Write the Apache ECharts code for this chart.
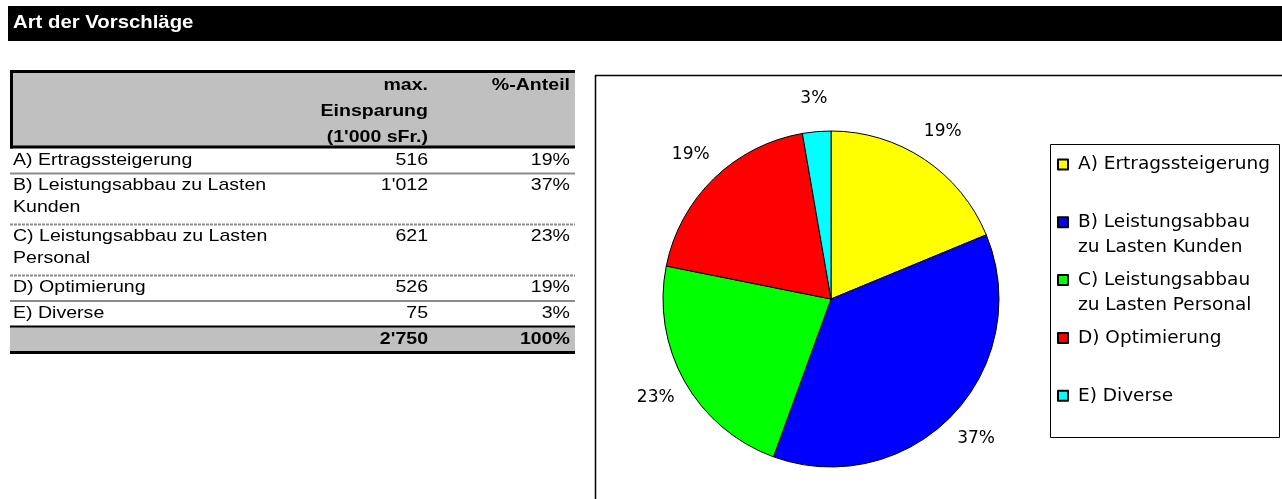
<!DOCTYPE html>
<html>
<head>
<meta charset="utf-8">
<script src="https://cdn.jsdelivr.net/npm/echarts@6/dist/echarts.min.js"></script>
<style>
  html, body { margin: 0; padding: 0; background: #fff; }
  #chart { width: 1282px; height: 499px; }
</style>
</head>
<body>
<div id="chart"></div>
<script>
const title = "Art der Vorschläge";
const categories = [
  "A) Ertragssteigerung",
  "B) Leistungsabbau zu Lasten Kunden",
  "C) Leistungsabbau zu Lasten Personal",
  "D) Optimierung",
  "E) Diverse",
];
const savings = [516, 1012, 621, 526, 75];
const headerValue = ["max.", "Einsparung", "(1'000 sFr.)"];
const headerShare = "%-Anteil";

const palette = ["#FFFF00", "#0000FF", "#00FF00", "#FF0000", "#00FFFF"];
const SANS = "Liberation Sans";
const LABEL_FONT = "DejaVu Sans";
const STRETCH = 1.15;

const total = savings.reduce((a, b) => a + b, 0);
const pct = (v) => Math.round((v / total) * 100) + "%";
const fmt = (v) => String(v).replace(/\B(?=(\d{3})+(?!\d))/g, "'");

// break a label at the last space so the first line stays under max chars
function wrap(text, max) {
  if (text.length <= max) return text;
  const cut = text.lastIndexOf(" ", max - 1);
  return text.slice(0, cut) + "\n" + text.slice(cut + 1);
}

function txt(x, y, text, o) {
  o = o || {};
  return {
    type: "text", x: x, y: y, scaleX: o.scale || STRETCH, silent: true, z: 10,
    style: {
      text: text, fill: o.color || "#000",
      fontFamily: SANS, fontSize: o.size || 17, fontWeight: o.bold ? "bold" : "normal",
      textAlign: o.align || "left", textVerticalAlign: o.valign || "middle",
      lineHeight: o.lineHeight || 22,
    },
  };
}
function hline(x1, x2, y, color, width, dash) {
  return {
    type: "line", silent: true, z: 11,
    shape: { x1: x1, y1: y, x2: x2, y2: y },
    style: { stroke: color, lineWidth: width, lineDash: dash || null },
  };
}

// ---- table ----
const L = 10, R = 575, VAL = 428, SHARE = 570;
const g = [];
g.push({ type: "rect", z: 0, silent: true, shape: { x: 8, y: 6, width: 1274, height: 35 }, style: { fill: "#000" } });
g.push(txt(13, 23, title, { bold: true, size: 19, color: "#fff", scale: 1.07 }));

g.push({ type: "rect", z: 9, silent: true, shape: { x: L, y: 70, width: R - L, height: 78 }, style: { fill: "#C0C0C0" } });
g.push(hline(L, R, 71.5, "#000", 3));
g.push(hline(L, R, 147, "#000", 3));
g.push({ type: "line", z: 11, silent: true, shape: { x1: 11.5, y1: 70, x2: 11.5, y2: 148.5 }, style: { stroke: "#000", lineWidth: 3 } });
headerValue.forEach((t, i) => g.push(txt(VAL, 85 + i * 26, t, { bold: true, align: "right" })));
g.push(txt(SHARE, 85, headerShare, { bold: true, align: "right" }));

let y = 148;
categories.forEach((name, i) => {
  const label = wrap(name, 28);
  const lines = label.split("\n").length;
  const h = lines > 1 ? 51 : 25.5;
  g.push(txt(13, y + 1, label, { valign: "top" }));
  g.push(txt(VAL, y + 12, fmt(savings[i]), { align: "right" }));
  g.push(txt(SHARE, y + 12, pct(savings[i]), { align: "right" }));
  y += h;
  if (i < categories.length - 1) {
    g.push(hline(L, R, y, "#8c8c8c", 2, lines > 1 ? [3, 1] : null));
  }
});
g.push({ type: "rect", z: 9, silent: true, shape: { x: L, y: y, width: R - L, height: 26 }, style: { fill: "#C0C0C0" } });
g.push(hline(L, R, y, "#000", 2));
g.push(txt(VAL, y + 13, fmt(total), { bold: true, align: "right" }));
g.push(txt(SHARE, y + 13, pct(total), { bold: true, align: "right" }));
g.push(hline(L, R, y + 26, "#000", 3));

// ---- chart frame and legend box ----
g.push({ type: "rect", z: 0, silent: true, shape: { x: 595.5, y: 75.5, width: 720, height: 460 }, style: { fill: "none", stroke: "#000", lineWidth: 1.5 } });
g.push({ type: "rect", z: 0, silent: true, shape: { x: 1050.5, y: 144.5, width: 229, height: 293 }, style: { fill: "#fff", stroke: "#000", lineWidth: 1 } });

const pieData = categories.map((n, i) => ({ name: n, value: savings[i] }));
const CENTER = [831, 299];

// wrapped legend entries get a leading empty line so the icon sits on the first text line
const legendText = (n) => {
  const w = wrap(n, 20);
  return w.indexOf("\n") >= 0 ? "\n" + w : w;
};
const legends = categories.map((name, i) => {
  const lines = wrap(name, 20).split("\n").length;
  const iconMid = 164.5 + 57.8 * i;
  return {
    data: [name], orient: "vertical", left: 1057, top: iconMid - 12.5 - (lines - 1) * 25,
    padding: 0, itemWidth: 10, itemHeight: 10, icon: "rect", selectedMode: false,
    formatter: legendText,
    textStyle: { fontFamily: LABEL_FONT, fontSize: 18.5, lineHeight: 25, color: "#000", padding: [0, 0, 0, 5] },
  };
});

const chart = echarts.init(document.getElementById("chart"), null, { renderer: "canvas" });
chart.setOption({
  backgroundColor: "#fff",
  animation: false,
  color: palette,
  legend: legends,
  graphic: { elements: g },
  series: [
    {
      type: "pie", center: CENTER, radius: 168, startAngle: 90, clockwise: true,
      data: pieData, silent: true,
      itemStyle: { borderColor: "#000", borderWidth: 1 },
      label: { show: false }, labelLine: { show: false },
      emphasis: { disabled: true },
    },
    {
      // transparent ring used only to place the percentage labels outside the pie
      type: "pie", center: CENTER, radius: [184, 212], startAngle: 90, clockwise: true,
      data: pieData, silent: true, avoidLabelOverlap: false,
      itemStyle: { color: "transparent", borderWidth: 0 },
      label: { show: true, position: "inside", formatter: (p) => pct(p.value), fontFamily: LABEL_FONT, fontSize: 17, color: "#000" },
      labelLine: { show: false },
      emphasis: { disabled: true },
    },
  ],
});
</script>
</body>
</html>
